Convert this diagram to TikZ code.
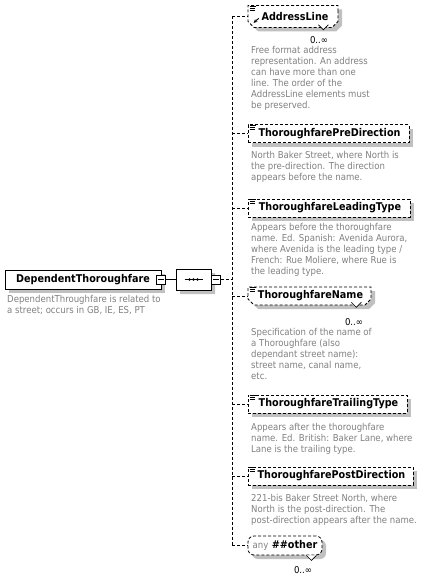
\documentclass[tikz,border=0pt]{standalone}
\usepackage{fontspec}
\setmainfont{DejaVu Sans}[FakeStretch=0.9]
\usetikzlibrary{shapes.misc,shadows,arrows.meta}
\definecolor{descgray}{RGB}{128,128,128}
\definecolor{shadowgray}{RGB}{192,192,192}
\tikzset{
  shad/.style={drop shadow={shadow xshift=4pt,shadow yshift=-4pt,fill=shadowgray,opacity=1}},
  elbox/.style={draw,dash pattern=on 3pt off 2pt,line width=0.8pt,fill=white,shad,inner sep=0pt,
    font=\fontsize{10.7}{12}\selectfont\bfseries,minimum height=18pt},
  multibox/.style={elbox,chamfered rectangle,chamfered rectangle corners={south west,south east},
    chamfered rectangle xsep=3pt,chamfered rectangle ysep=3pt},
  mainbox/.style={draw,line width=0.8pt,fill=white,shad,inner sep=0pt,
    font=\fontsize{10.7}{12}\selectfont\bfseries,minimum height=19pt,minimum width=156pt},
  minusbox/.style={draw,line width=0.7pt,fill=white,minimum size=9pt,inner sep=0pt},
  seqbox/.style={draw,line width=0.8pt,fill=white,shad,chamfered rectangle,chamfered rectangle xsep=5pt,
    chamfered rectangle ysep=5pt,minimum width=35pt,minimum height=21pt,inner sep=0pt},
  desc/.style={anchor=north west,inner sep=0pt,align=left,text=descgray,font=\fontsize{9.5}{11}\selectfont},
  mult/.style={inner sep=0pt,font=\fontsize{9.5}{11}\selectfont},
  conn/.style={line width=0.8pt,dash pattern=on 3pt off 2pt},
  solidconn/.style={line width=0.8pt},
  notch/.style={line width=0.7pt,fill=white},
  icon/.style={line width=0.7pt}
}
\begin{document}
\begin{tikzpicture}[x=1pt,y=-1pt]
\useasboundingbox (0,0) rectangle (433,578);
% main element
\node[mainbox] (main) at (83,279.5) {DependentThoroughfare};
\node[minusbox] (m1) at (161,279.5) {};
\draw[solidconn] ([xshift=2pt]m1.west) -- ([xshift=-2pt]m1.east);
\node[desc] (dmain) at (7,295.5) {DependentThroughfare is related to\\a street; occurs in GB, IE, ES, PT};
% sequence
\node[seqbox] (seq) at (193.5,279.5) {};
\draw[solidconn] ([xshift=-9pt]seq.center) -- ([xshift=9pt]seq.center);
\foreach \dx in {-4,0,4}{\fill ([xshift=\dx pt]seq.center) circle (1.4pt);}
\node[minusbox] (m2) at (216,279.5) {};
\draw[solidconn] ([xshift=2pt]m2.west) -- ([xshift=-2pt]m2.east);
\draw[solidconn] (m1.east) -- (seq.west);
% spine
\coordinate (spine) at (232,279.5);
% children
\node[multibox,minimum width=90pt,minimum height=22pt] (a1) at (293,16.5) {\hspace*{4pt}AddressLine};
\node[elbox,minimum width=161pt] (a2) at (328.5,133.5) {\hspace*{2pt}ThoroughfarePreDirection};
\node[elbox,minimum width=162pt] (a3) at (329,208) {\hspace*{2pt}ThoroughfareLeadingType};
\node[multibox,minimum width=123pt] (a4) at (309.5,296) {\hspace*{2pt}ThoroughfareName};
\node[elbox,minimum width=159pt] (a5) at (327.5,404) {\hspace*{2pt}ThoroughfareTrailingType};
\node[elbox,minimum width=165pt] (a6) at (330.5,476) {\hspace*{2pt}ThoroughfarePostDirection};
\node[elbox,rounded corners=6pt,minimum width=74pt,minimum height=19pt] (a7) at (285,545.5)
  {{\mdseries\color{descgray}\fontsize{9.5}{11}\selectfont any} \#\#other};
% connectors
\draw[conn] (m2.east) -- (spine);
\draw[conn] (a1.west -| spine) -- (a7.west -| spine);
\foreach \n in {a1,a2,a3,a4,a5,a6,a7}{\draw[conn] (\n.west -| spine) -- (\n.west);}
% icons
\foreach \n in {a1,a2,a3,a4,a5,a6}{
  \draw[icon] ([xshift=2pt,yshift=-1pt]\n.north west) -- ++(6pt,0pt);
  \draw[icon] ([xshift=2pt,yshift=-3pt]\n.north west) -- ++(5pt,0pt);
  \draw[icon] ([xshift=2pt,yshift=-5pt]\n.north west) -- ++(5pt,0pt);
}
\draw[-{Stealth[length=3.5pt,width=3.5pt]},line width=0.9pt] ([xshift=8pt,yshift=6.5pt]a1.south west) -- ([xshift=3pt,yshift=2pt]a1.south west);
% notches
\draw[notch] ([xshift=-17pt]a1.south east) -- ++(5pt,-5pt) -- ++(5pt,5pt);
\draw[notch] ([xshift=-17pt]a4.south east) -- ++(5pt,-5pt) -- ++(5pt,5pt);
\draw[notch] ([xshift=-16pt]a7.south east) -- ++(5pt,-5pt) -- ++(5pt,5pt);
% multiplicities
\node[mult] (k1) at (319,40) {0..∞};
\node[mult] (k4) at (354,322) {0..∞};
\node[mult] (k7) at (303,570) {0..∞};
% descriptions
\node[desc] (d1) at (251,46.5) {Free format address\\representation. An address\\can have more than one\\line. The order of the\\AddressLine elements must\\be preserved.};
\node[desc] (d2) at (251,151.5) {North Baker Street, where North is\\the pre-direction. The direction\\appears before the name.};
\node[desc] (d3) at (251,223.5) {Appears before the thoroughfare\\name. Ed. Spanish: Avenida Aurora,\\where Avenida is the leading type /\\French: Rue Moliere, where Rue is\\the leading type.};
\node[desc] (d4) at (251,328.5) {Specification of the name of\\a Thoroughfare (also\\dependant street name):\\street name, canal name,\\etc.};
\node[desc] (d5) at (251,423.5) {Appears after the thoroughfare\\name. Ed. British: Baker Lane, where\\Lane is the trailing type.};
\node[desc] (d6) at (251,494.5) {221-bis Baker Street North, where\\North is the post-direction. The\\post-direction appears after the name.};
\end{tikzpicture}
\end{document}
